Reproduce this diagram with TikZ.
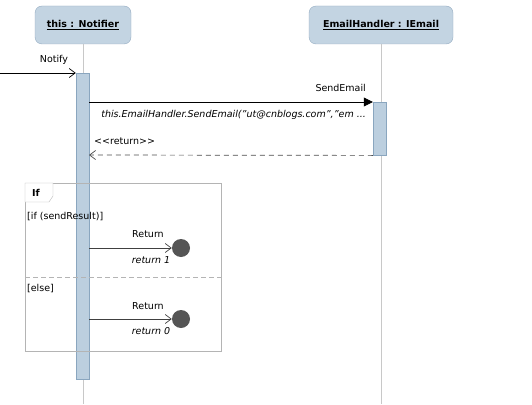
\documentclass[tikz,border=0pt]{standalone}
\usepackage{fontspec}
\setmainfont{DejaVu Sans}
\usetikzlibrary{arrows.meta}
\definecolor{boxfill}{HTML}{C3D4E2}
\definecolor{boxline}{HTML}{94ABC0}
\definecolor{actfill}{HTML}{BCCFDF}
\definecolor{actline}{HTML}{8AA6BF}
\definecolor{lifeline}{HTML}{C8C8C8}
\definecolor{framecol}{HTML}{B4B4B4}
\definecolor{dotfill}{HTML}{555555}
\newcommand{\fs}{\fontsize{9.5}{11}\selectfont}
\begin{document}
\begin{tikzpicture}[x=1pt,y=-1pt,
  every node/.style={font=\fs, inner sep=0pt},
  head/.style={draw=boxline, fill=boxfill, rounded corners=7pt, minimum height=38pt, font=\fs\bfseries},
  act/.style={draw=actline, fill=actfill},
  life/.style={draw=lifeline, line width=0.8pt},
  msg/.style={draw=black, line width=0.7pt},
  openhead/.style={-{Straight Barb[length=6pt,width=9pt]}},
  endcircle/.style={circle, fill=dotfill, minimum size=18pt},
  lbl/.style={font=\fs},
  ilbl/.style={font=\fs\itshape}
]
\useasboundingbox (0,0) rectangle (532,404);
% heads
\node[head, minimum width=96pt] (n) at (83,25) {\underline{this : Notifier}};
\node[head, minimum width=144pt] (e) at (381,25) {\underline{EmailHandler : IEmail}};
% lifelines
\coordinate (nb) at (83,404);
\coordinate (eb) at (381,404);
\draw[life] (n.south) -- (nb);
\draw[life] (e.south) -- (eb);
% activations
\node[act, minimum width=13pt, minimum height=306pt, anchor=north] (na) at (82.5,73) {};
\node[act, minimum width=13pt, minimum height=53pt, anchor=north] (ea) at (379.5,102) {};
% Notify
\coordinate (start) at (0,73);
\draw[msg, openhead] (start) -- (na.north west);
\node[lbl] (notifyl) at (54,60) {Notify};
% SendEmail
\coordinate (s1) at (89,102);
\draw[msg, -{Triangle[length=9pt,width=9pt]}] (s1) -- (ea.north west);
\node[lbl, anchor=east] (sendl) at (366,88) {SendEmail};
\node[ilbl, anchor=east] (sendi) at (366,115) {this.EmailHandler.SendEmail("ut@cnblogs.com","em ...};
% return
\coordinate (r1) at (89,155);
\draw[msg, draw=black!70, dashed, dash pattern=on 5pt off 4pt, openhead] (ea.south west) -- (r1);
\node[lbl, anchor=west] (retl) at (94,141) {<{}<return>{}>};
% frame
\node[draw=framecol, minimum width=196pt, minimum height=168pt, anchor=north west] (frame) at (25,183) {};
\draw[framecol, fill=white] (25,183) -- (53,183) -- (53,196) -- (49,202) -- (25,202) -- cycle;
\node[font=\fs\bfseries, anchor=west] (iftag) at (32,192.5) {If};
\node[lbl, anchor=west] (g1) at (27,217) {[if (sendResult)]};
\draw[framecol, dashed, dash pattern=on 5pt off 3pt, line width=0.8pt] (frame.west |- 0,277) -- (frame.east |- 0,277);
\node[lbl, anchor=west] (g2) at (27,289) {[else]};
% return 1
\node[endcircle] (c1) at (181,248) {};
\coordinate (a1) at (89,248);
\draw[msg, draw=black!75, openhead] (a1) -- (c1.west);
\node[lbl] (rl1) at (148,234) {Return};
\node[ilbl] (ri1) at (151,260) {return 1};
% return 0
\node[endcircle] (c0) at (181,319) {};
\coordinate (a0) at (89,319);
\draw[msg, draw=black!75, openhead] (a0) -- (c0.west);
\node[lbl] (rl0) at (148,306) {Return};
\node[ilbl] (ri0) at (151,331) {return 0};
\end{tikzpicture}
\end{document}
